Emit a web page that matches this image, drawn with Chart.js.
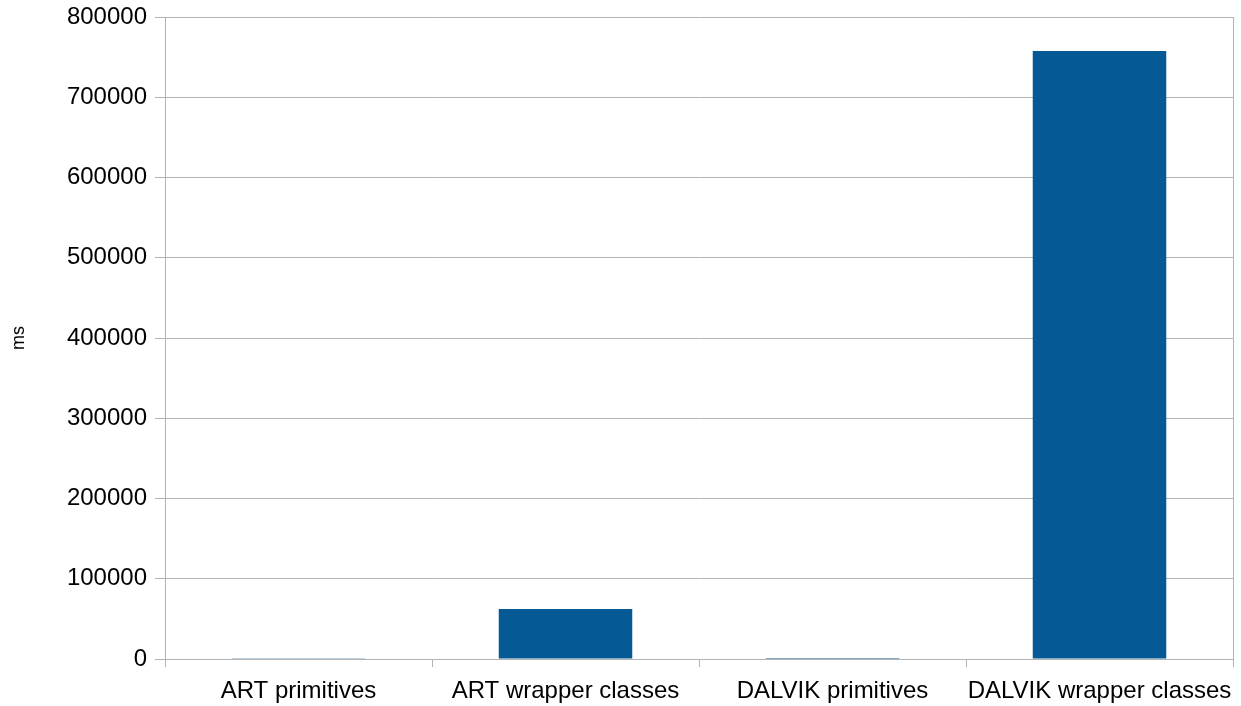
<!DOCTYPE html>
<html>
<head>
<meta charset="utf-8">
<script src="https://cdn.jsdelivr.net/npm/chart.js@4/dist/chart.umd.min.js"></script>
<style>
html,body{margin:0;padding:0;background:#fff;}
#wrap{width:1241px;height:706px;position:relative;}
</style>
</head>
<body>
<div id="wrap"><canvas id="c" width="1241" height="706"></canvas></div>
<script>
const categories = ["ART primitives", "ART wrapper classes", "DALVIK primitives", "DALVIK wrapper classes"];
const timesMs = [900, 62300, 1300, 757600];
const yTicks = [0, 100000, 200000, 300000, 400000, 500000, 600000, 700000, 800000];
const yTitle = "ms";

const gridColor = "#b3b3b3";
const font = {family: "'Liberation Sans', Arial, sans-serif", size: 24};

new Chart(document.getElementById('c'), {
  type: 'bar',
  data: {
    labels: categories,
    datasets: [{
      data: timesMs,
      backgroundColor: '#055a95',
      borderWidth: 0,
      categoryPercentage: 1.0,
      barPercentage: 0.5
    }]
  },
  options: {
    responsive: false,
    animation: false,
    devicePixelRatio: 1,
    layout: {padding: {top: 17, right: 0, bottom: 0, left: 0}},
    plugins: {legend: {display: false}, tooltip: {enabled: false}},
    scales: {
      x: {
        grid: {offset: true, drawOnChartArea: false, drawTicks: true, tickLength: 8, color: gridColor, lineWidth: 1},
        border: {display: true, color: gridColor, width: 1},
        ticks: {color: '#000', font: font, padding: 10, maxRotation: 0, autoSkip: false},
        afterFit: s => { s.height = 47; s.paddingLeft = 0; s.paddingRight = 0; }
      },
      y: {
        min: 0, max: 800000,
        afterBuildTicks: s => { s.ticks = yTicks.map(v => ({value: v})); },
        grid: {color: gridColor, lineWidth: 1, tickLength: 10, drawTicks: true},
        border: {display: true, color: gridColor, width: 1},
        ticks: {color: '#000', font: font, padding: 8, callback: v => String(v)},
        title: {display: true, text: yTitle, color: '#000', font: {family: font.family, size: 18}, padding: {top: 8, bottom: 0}},
        afterFit: s => { s.width = 165; s.paddingTop = 0; s.paddingBottom = 0; }
      },
      y2: {
        position: 'right',
        min: 0, max: 800000,
        grid: {drawOnChartArea: false, drawTicks: false},
        border: {display: true, color: gridColor, width: 1},
        ticks: {display: false},
        afterFit: s => { s.width = 8; s.paddingTop = 0; s.paddingBottom = 0; }
      }
    }
  }
});
</script>
</body>
</html>
